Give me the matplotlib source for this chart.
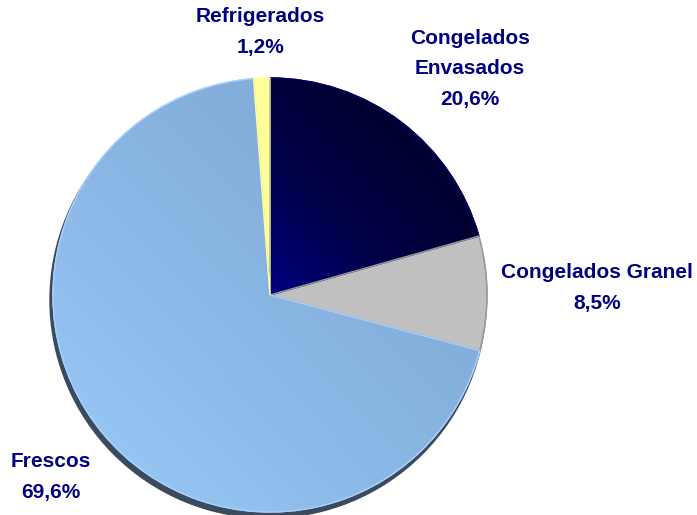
import numpy as np
import matplotlib
matplotlib.use("Agg")
import matplotlib.pyplot as plt
from matplotlib.patches import Circle
from matplotlib.colors import LinearSegmentedColormap

categories = ["Congelados\nEnvasados", "Congelados Granel", "Frescos", "Refrigerados"]
values = [20.6, 8.5, 69.6, 1.2]
value_labels = ["20,6%", "8,5%", "69,6%", "1,2%"]

W, H = 697, 515
fig = plt.figure(figsize=(W / 100, H / 100), dpi=100)
ax = fig.add_axes([0, 0, 1, 1])
ax.set_xlim(0, W)
ax.set_ylim(0, H)
ax.set_aspect("equal")
ax.axis("off")

cx, cy, r = 270, H - 295, 217

# shadow
ax.add_patch(Circle((cx - 2, cy - 5), r + 1, color="#3c4a5e", zorder=1))

base_colors = ["#000066", "#c0c0c0", "#8ab8e8", "#ffff99"]
edge_colors = ["#000060", "#9a9a9a", "#a8d0ff", "#ffff99"]
wedges, _ = ax.pie(values, colors=base_colors, startangle=90, counterclock=False,
                   center=(cx, cy), radius=r, frame=False,
                   wedgeprops=dict(linewidth=1.0, zorder=2))
for w, ec in zip(wedges, edge_colors):
    w.set_edgecolor(ec)
    w.set_zorder(2)

# gradients (bottom-left -> top-right within each wedge's bounding box)
grad = {
    0: ["#000080", "#000048", "#000030", "#000058"],
    2: ["#9ccdfc", "#8ebbea", "#84afdc", "#80aad6"],
}
yy, xx = np.mgrid[0:1:200j, 0:1:200j]
t = (xx + yy) / 2.0
for i, cols in grad.items():
    cmap = LinearSegmentedColormap.from_list("g%d" % i, cols)
    bb = wedges[i].get_path().get_extents(wedges[i].get_patch_transform())
    im = ax.imshow(t, cmap=cmap, origin="lower",
                   extent=(bb.x0, bb.x1, bb.y0, bb.y1), zorder=3,
                   interpolation="bilinear")
    im.set_clip_path(wedges[i])
    ax.add_patch(plt.Polygon(np.zeros((1, 2)), visible=False))
# redraw edges on top of gradients
for w, ec in zip(wedges, edge_colors):
    p = plt.matplotlib.patches.PathPatch(w.get_path().transformed(w.get_patch_transform()),
                                         fill=False, edgecolor=ec, linewidth=1.0, zorder=4)
    ax.add_patch(p)
ax.set_xlim(0, W)
ax.set_ylim(0, H)

txt = dict(color="#000080", fontsize=15, fontweight="bold",
           family=["Liberation Sans", "DejaVu Sans"], ha="center", va="center",
           linespacing=1.75, zorder=5)
label_pos = [(470, H - 69), (597, H - 288), (51, H - 477), (260, H - 32)]
for cat, vl, (x, y) in zip(categories, value_labels, label_pos):
    ax.text(x, y, cat + "\n" + vl, **txt)

fig.savefig("out.png", dpi=100)
